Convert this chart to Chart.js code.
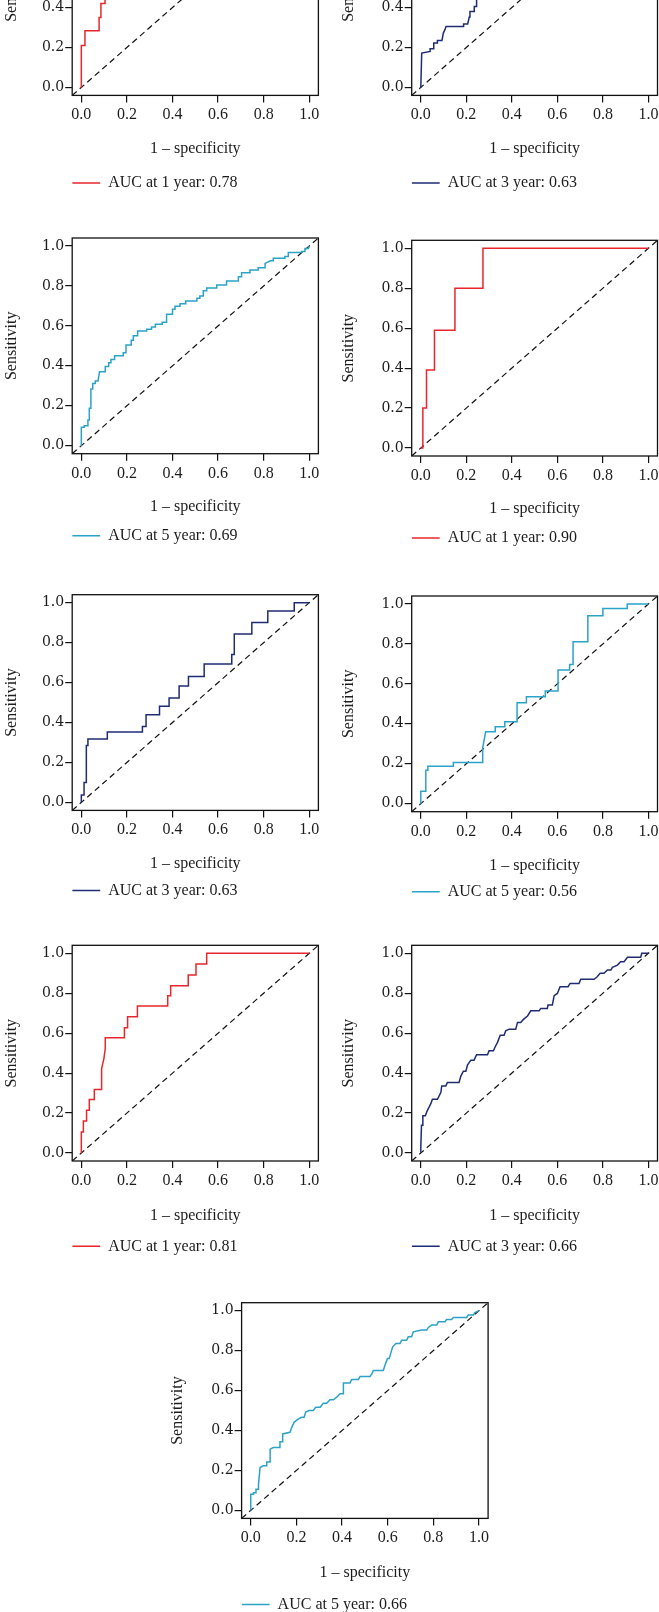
<!DOCTYPE html>
<html>
<head>
<meta charset="utf-8">
<script src="https://cdn.jsdelivr.net/npm/chart.js@4.4.1/dist/chart.umd.min.js"></script>
<style>
html, body { margin: 0; padding: 0; background: #fff; width: 659px; height: 1612px; overflow: hidden; position: relative; }
canvas { position: absolute; }
</style>
</head>
<body>
<script>
'use strict';

// axis ticks and limits (R style: range padded by 4%)
const tickValues = [0, 0.2, 0.4, 0.6, 0.8, 1.0];
const axisMin = -0.04;
const axisMax = 1.04;
const xTitle = '1 \u2013 specificity';
const yTitle = 'Sensitivity';

// ROC curves, [1 - specificity, sensitivity]
const roc1a = [[0,0],[0,0.21],[0.016,0.21],[0.016,0.284],[0.078,0.284],[0.078,0.35],[0.086,0.35],[0.086,0.42],[0.104,0.42],[0.104,0.53],[0.14,0.53],[0.14,0.63],[0.22,0.63],[0.22,0.74],[0.35,0.74],[0.35,0.84],[0.5,0.84],[0.5,0.95],[0.62,0.95],[0.62,1],[1,1]];
const roc3a = [[0,0],[0.004,0.172],[0.041,0.18],[0.041,0.194],[0.057,0.194],[0.057,0.222],[0.073,0.222],[0.073,0.235],[0.093,0.235],[0.099,0.272],[0.106,0.289],[0.111,0.305],[0.188,0.305],[0.188,0.318],[0.206,0.318],[0.213,0.352],[0.216,0.38],[0.235,0.38],[0.235,0.405],[0.245,0.405],[0.245,0.47],[0.3,0.5],[0.35,0.55],[0.45,0.6],[0.55,0.68],[0.65,0.74],[0.75,0.82],[0.85,0.9],[0.95,0.97],[1,1]];
const roc5a = [[0,0],[0,0.092],[0.013,0.092],[0.013,0.1],[0.029,0.1],[0.029,0.129],[0.035,0.129],[0.035,0.187],[0.042,0.187],[0.042,0.284],[0.05,0.284],[0.05,0.312],[0.061,0.312],[0.061,0.324],[0.073,0.324],[0.08,0.37],[0.105,0.37],[0.105,0.396],[0.12,0.396],[0.12,0.416],[0.13,0.416],[0.13,0.432],[0.146,0.432],[0.146,0.451],[0.184,0.451],[0.184,0.466],[0.196,0.466],[0.196,0.504],[0.219,0.504],[0.219,0.528],[0.228,0.528],[0.228,0.551],[0.247,0.551],[0.247,0.574],[0.287,0.574],[0.287,0.583],[0.308,0.583],[0.308,0.594],[0.325,0.594],[0.325,0.608],[0.355,0.608],[0.355,0.618],[0.374,0.618],[0.374,0.658],[0.4,0.658],[0.4,0.683],[0.411,0.683],[0.411,0.698],[0.433,0.698],[0.433,0.711],[0.458,0.711],[0.458,0.725],[0.507,0.725],[0.507,0.738],[0.52,0.738],[0.52,0.75],[0.535,0.75],[0.535,0.776],[0.55,0.776],[0.55,0.79],[0.594,0.79],[0.594,0.805],[0.637,0.805],[0.637,0.825],[0.689,0.825],[0.689,0.846],[0.703,0.846],[0.703,0.866],[0.74,0.866],[0.74,0.88],[0.776,0.88],[0.776,0.891],[0.806,0.891],[0.806,0.913],[0.83,0.926],[0.842,0.926],[0.842,0.938],[0.893,0.938],[0.893,0.947],[0.908,0.947],[0.908,0.967],[0.966,0.967],[0.966,0.972],[0.981,0.972],[0.981,0.988],[0.996,0.988],[1,1]];
const roc1b = [[0,0],[0.009,0],[0.009,0.2],[0.025,0.2],[0.025,0.39],[0.06,0.39],[0.06,0.59],[0.15,0.59],[0.15,0.8],[0.273,0.8],[0.273,1],[1,1]];
const roc3b = [[0,0],[0,0.037],[0.012,0.037],[0.012,0.1],[0.022,0.1],[0.022,0.285],[0.029,0.285],[0.029,0.317],[0.114,0.317],[0.114,0.352],[0.268,0.352],[0.268,0.38],[0.284,0.38],[0.284,0.439],[0.343,0.439],[0.343,0.481],[0.385,0.481],[0.385,0.523],[0.429,0.523],[0.429,0.583],[0.47,0.583],[0.47,0.631],[0.539,0.631],[0.539,0.693],[0.66,0.693],[0.66,0.74],[0.671,0.74],[0.671,0.843],[0.748,0.843],[0.748,0.901],[0.818,0.901],[0.818,0.958],[0.934,0.958],[0.934,1],[1,1]];
const roc5b = [[0,0],[0,0.062],[0.022,0.062],[0.022,0.167],[0.031,0.167],[0.031,0.187],[0.143,0.187],[0.143,0.206],[0.272,0.206],[0.272,0.281],[0.285,0.36],[0.327,0.36],[0.327,0.385],[0.369,0.385],[0.369,0.41],[0.423,0.41],[0.423,0.505],[0.464,0.505],[0.464,0.535],[0.547,0.535],[0.547,0.564],[0.603,0.564],[0.603,0.669],[0.654,0.669],[0.654,0.697],[0.669,0.697],[0.669,0.811],[0.734,0.811],[0.734,0.941],[0.8,0.941],[0.8,0.978],[0.907,0.978],[0.907,1],[1,1]];
const roc1c = [[0,0],[0,0.105],[0.009,0.105],[0.009,0.16],[0.023,0.16],[0.023,0.214],[0.035,0.214],[0.035,0.268],[0.057,0.268],[0.057,0.318],[0.089,0.318],[0.089,0.423],[0.099,0.473],[0.105,0.523],[0.105,0.577],[0.189,0.577],[0.189,0.627],[0.203,0.627],[0.203,0.682],[0.246,0.682],[0.246,0.736],[0.379,0.736],[0.379,0.788],[0.392,0.788],[0.392,0.838],[0.469,0.838],[0.469,0.891],[0.503,0.891],[0.503,0.946],[0.55,0.946],[0.55,1],[1,1]];
const roc3c = [[0,0],[0,0.03],[0.003,0.139],[0.009,0.139],[0.009,0.186],[0.02,0.186],[0.029,0.214],[0.037,0.231],[0.044,0.247],[0.051,0.269],[0.073,0.269],[0.088,0.303],[0.092,0.336],[0.11,0.336],[0.117,0.353],[0.168,0.353],[0.176,0.385],[0.187,0.41],[0.198,0.41],[0.205,0.44],[0.22,0.465],[0.234,0.465],[0.245,0.492],[0.293,0.492],[0.3,0.512],[0.319,0.512],[0.327,0.532],[0.337,0.554],[0.349,0.59],[0.366,0.59],[0.373,0.612],[0.388,0.62],[0.417,0.62],[0.425,0.654],[0.439,0.654],[0.451,0.669],[0.469,0.686],[0.483,0.712],[0.52,0.712],[0.527,0.724],[0.556,0.724],[0.559,0.741],[0.578,0.741],[0.586,0.788],[0.6,0.799],[0.612,0.833],[0.647,0.833],[0.656,0.849],[0.695,0.849],[0.703,0.87],[0.761,0.87],[0.773,0.88],[0.788,0.9],[0.805,0.9],[0.82,0.916],[0.835,0.916],[0.842,0.93],[0.864,0.941],[0.878,0.958],[0.893,0.958],[0.908,0.98],[0.966,0.98],[0.971,1],[1,1]];
const roc5c = [[0,0],[0,0.081],[0.012,0.081],[0.012,0.089],[0.023,0.089],[0.023,0.106],[0.034,0.106],[0.034,0.131],[0.041,0.215],[0.055,0.223],[0.07,0.223],[0.07,0.243],[0.085,0.243],[0.085,0.307],[0.099,0.315],[0.128,0.315],[0.128,0.344],[0.14,0.344],[0.14,0.383],[0.172,0.391],[0.18,0.416],[0.19,0.441],[0.209,0.458],[0.223,0.466],[0.234,0.466],[0.241,0.492],[0.255,0.5],[0.274,0.5],[0.285,0.517],[0.304,0.517],[0.318,0.537],[0.333,0.537],[0.347,0.554],[0.362,0.554],[0.377,0.567],[0.391,0.584],[0.406,0.584],[0.406,0.638],[0.435,0.638],[0.442,0.656],[0.472,0.656],[0.479,0.671],[0.523,0.671],[0.533,0.688],[0.537,0.701],[0.581,0.701],[0.588,0.727],[0.599,0.76],[0.607,0.76],[0.613,0.785],[0.622,0.819],[0.636,0.836],[0.654,0.836],[0.661,0.852],[0.683,0.852],[0.69,0.869],[0.705,0.869],[0.712,0.894],[0.749,0.903],[0.771,0.903],[0.778,0.916],[0.793,0.928],[0.815,0.928],[0.822,0.945],[0.851,0.945],[0.858,0.956],[0.88,0.956],[0.888,0.966],[0.946,0.966],[0.953,0.978],[0.975,0.978],[0.982,0.99],[1,1]];

const rocLabels = [
    'AUC at 1 year: 0.78', 'AUC at 3 year: 0.63', 'AUC at 5 year: 0.69',
    'AUC at 1 year: 0.90', 'AUC at 3 year: 0.63', 'AUC at 5 year: 0.56',
    'AUC at 1 year: 0.81', 'AUC at 3 year: 0.66', 'AUC at 5 year: 0.66',
];
const rocCurves = [roc1a, roc3a, roc5a, roc1b, roc3b, roc5b, roc1c, roc3c, roc5c];

// styling / layout
const red = '#e8262b';
const navy = '#1f2c74';
const cyan = '#2ba3c9';
const rocColors = [red, navy, cyan, red, navy, cyan, red, navy, cyan];

const columns = {
    L: { left: 2, boxLeft: 72.2, boxRight: 318.4 },
    R: { left: 339, boxLeft: 411.7, boxRight: 657.5 },
    C: { left: 168, boxLeft: 241.6, boxRight: 488.1 },
};
const panelCol = ['L', 'R', 'L', 'R', 'L', 'R', 'L', 'R', 'C'];
const panelBoxTop = [-120.3, -120.3, 238, 240.3, 594.7, 596, 945.3, 945.3, 1302.7];
// distance from box bottom to x title centre / legend line
const panelTitleOff = [53.3, 53.3, 53, 53, 53.6, 53.6, 55, 55, 54.4];
const panelLegendOff = [87.6, 87.6, 82, 82, 80, 80, 85.3, 85.3, 86];
const boxHeight = 215.7;

Chart.defaults.font.family = "'Liberation Serif', 'Times New Roman', serif";
Chart.defaults.font.size = 16;
Chart.defaults.color = '#1c1c1c';

const frame = {
    id: 'frame',
    afterDatasetsDraw(chart) {
        let a = chart.chartArea;
        let ctx = chart.ctx;
        ctx.save();
        ctx.strokeStyle = '#111';
        ctx.lineWidth = 1.3;
        ctx.strokeRect(a.left, a.top, a.right - a.left, a.bottom - a.top);
        ctx.restore();
    }
};

function drawPanel(i) {
    let col = columns[panelCol[i]];
    let boxTop = panelBoxTop[i];
    let xh = panelLegendOff[i] - 8;          // legend line sits 8px below x scale
    let titlePad = xh - 9.6 - panelTitleOff[i];
    let legendH = 26;
    let top = Math.floor(boxTop) - 10;
    let padTop = boxTop - top;
    let h = Math.ceil(padTop + boxHeight + xh + legendH + 2);
    let padBottom = h - (padTop + boxHeight + xh + legendH);
    let w = Math.ceil(col.boxRight + 12 - col.left);
    let padRight = col.left + w - col.boxRight;
    let yw = col.boxLeft - col.left;

    let canvas = document.createElement('canvas');
    canvas.width = w;
    canvas.height = h;
    canvas.style.left = col.left + 'px';
    canvas.style.top = top + 'px';
    canvas.style.width = w + 'px';
    canvas.style.height = h + 'px';
    document.body.appendChild(canvas);

    let setTicks = scale => { scale.ticks = tickValues.map(v => ({ value: v })); };
    let gridOpts = { drawOnChartArea: false, drawTicks: true, tickLength: 7, color: '#111', lineWidth: 1.2 };

    new Chart(canvas, {
        type: 'line',
        data: {
            datasets: [
                {
                    label: rocLabels[i],
                    data: rocCurves[i].map(p => ({ x: p[0], y: p[1] })),
                    borderColor: rocColors[i],
                    backgroundColor: rocColors[i],
                    borderWidth: 1.5,
                    pointRadius: 0,
                    tension: 0,
                },
                {
                    label: 'reference',
                    data: [{ x: axisMin, y: axisMin }, { x: axisMax, y: axisMax }],
                    borderColor: '#111',
                    borderWidth: 1.2,
                    borderDash: [6, 4],
                    pointRadius: 0,
                },
            ],
        },
        options: {
            responsive: false,
            animation: false,
            devicePixelRatio: 1,
            events: [],
            layout: { padding: { top: padTop, left: 0, right: padRight, bottom: padBottom } },
            scales: {
                x: {
                    type: 'linear',
                    min: axisMin,
                    max: axisMax,
                    afterBuildTicks: setTicks,
                    afterFit: scale => { scale.height = xh; },
                    grid: gridOpts,
                    border: { display: false },
                    ticks: { padding: 3, maxRotation: 0, callback: v => v.toFixed(1) },
                    title: { display: true, text: xTitle, padding: { top: 0, bottom: titlePad } },
                },
                y: {
                    type: 'linear',
                    min: axisMin,
                    max: axisMax,
                    afterBuildTicks: setTicks,
                    afterFit: scale => { scale.width = yw; },
                    grid: gridOpts,
                    border: { display: false },
                    ticks: {
                        padding: 1,
                        font: { family: "'DejaVu Serif', serif", size: 14 },
                        callback: v => v.toFixed(1),
                    },
                    title: { display: true, text: yTitle, padding: 0 },
                },
            },
            plugins: {
                tooltip: { enabled: false },
                legend: {
                    position: 'bottom',
                    align: 'start',
                    fullSize: false,
                    labels: {
                        usePointStyle: true,
                        pointStyle: 'line',
                        pointStyleWidth: 28,
                        padding: 0,
                        filter: item => item.datasetIndex === 0,
                    },
                },
            },
        },
        plugins: [frame],
    });
}

for (let i = 0; i < rocCurves.length; i++) {
    drawPanel(i);
}
</script>
</body>
</html>
